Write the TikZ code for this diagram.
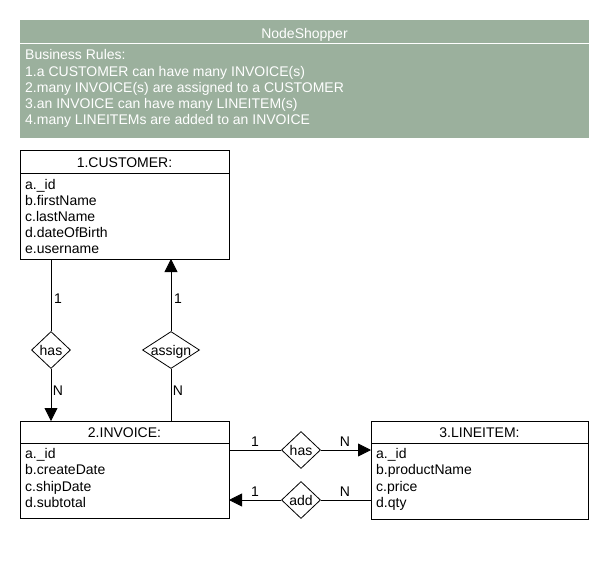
\documentclass[tikz,border=0pt]{standalone}
\usepackage{fontspec}
\setmainfont{Liberation Sans}
\usetikzlibrary{arrows.meta,shapes.geometric}
\definecolor{hdr}{RGB}{155,176,157}
\tikzset{
  x=1pt,y=-1pt,
  txt/.style={font=\fontsize{14}{16}\selectfont,inner sep=0pt,text height=10pt,text depth=0pt},
  wtxt/.style={txt,text=white,anchor=west},
  attr/.style={txt,anchor=west},
  ent/.style={draw=black,line width=0.8pt,fill=white},
  rel/.style={draw=black,line width=0.8pt,fill=white,diamond,aspect=1,inner sep=0pt},
  conn/.style={draw=black,line width=0.8pt},
  arr/.style={conn,-{Triangle[length=13pt,width=13pt]}},
  card/.style={txt}
}
\begin{document}
\begin{tikzpicture}
\useasboundingbox (0,0) rectangle (609,570);
\fill[white] (0,0) rectangle (609,570);
% header
\fill[hdr] (20,20) rectangle (589,138);
\draw[white,line width=0.8pt] (20,43.5) -- (589,43.5);
\node[txt,text=white] (title) at (304.5,33) {NodeShopper};
\node[wtxt] (r0) at (25,54) {Business Rules:};
\node[wtxt] (r1) at (25,71) {1.a CUSTOMER can have many INVOICE(s)};
\node[wtxt] (r2) at (25,87) {2.many INVOICE(s) are assigned to a CUSTOMER};
\node[wtxt] (r3) at (25,103) {3.an INVOICE can have many LINEITEM(s)};
\node[wtxt] (r4) at (25,119) {4.many LINEITEMs are added to an INVOICE};
% customer
\draw[ent] (20,150) rectangle (229,259);
\draw[conn] (20,173) -- (229,173);
\node[txt] (custT) at (124.5,162) {1.CUSTOMER:};
\node[attr] (c1) at (25,184) {a.\_id};
\node[attr] (c2) at (25,200) {b.firstName};
\node[attr] (c3) at (25,216) {c.lastName};
\node[attr] (c4) at (25,232) {d.dateOfBirth};
\node[attr] (c5) at (25,248) {e.username};
% invoice
\draw[ent] (20,421) rectangle (229,518);
\draw[conn] (20,443) -- (229,443);
\node[txt] (invT) at (124.5,432) {2.INVOICE:};
\node[attr] (i1) at (25,453) {a.\_id};
\node[attr] (i2) at (25,469) {b.createDate};
\node[attr] (i3) at (25,486) {c.shipDate};
\node[attr] (i4) at (25,502) {d.subtotal};
% lineitem
\draw[ent] (371,421) rectangle (588,519);
\draw[conn] (371,443) -- (588,443);
\node[txt] (liT) at (479.5,432) {3.LINEITEM:};
\node[attr] (l1) at (376,453) {a.\_id};
\node[attr] (l2) at (376,469) {b.productName};
\node[attr] (l3) at (376,486) {c.price};
\node[attr] (l4) at (376,502) {d.qty};
% anchor coordinates
\coordinate (cB1) at (51,259);
\coordinate (cB2) at (171,259);
\coordinate (iT1) at (51,421);
\coordinate (iT2) at (171,421);
\coordinate (iR1) at (229,450);
\coordinate (iR2) at (229,500);
\coordinate (lL1) at (371,450);
\coordinate (lL2) at (371,500);
% relationships
\node[rel,minimum width=39pt,minimum height=37pt] (has1) at (51,350) {};
\node[txt] at (has1) {has};
\node[rel,minimum width=57pt,minimum height=37pt] (assign) at (171,350) {};
\node[txt] at (assign) {assign};
\node[rel,minimum width=39pt,minimum height=37pt] (has2) at (301,450) {};
\node[txt] at (has2) {has};
\node[rel,minimum width=39pt,minimum height=37pt] (add) at (301,500) {};
\node[txt] at (add) {add};
% connectors
\draw[conn] (cB1) -- (has1.north);
\draw[arr] (has1.south) -- (iT1);
\draw[conn] (iT2) -- (assign.south);
\draw[arr] (assign.north) -- (cB2);
\draw[conn] (iR1) -- (has2.west);
\draw[arr] (has2.east) -- (lL1);
\draw[conn] (lL2) -- (add.east);
\draw[arr] (add.west) -- (iR2);
% cardinalities
\node[card] at (58,298) {1};
\node[card] at (58,390) {N};
\node[card] at (178,298) {1};
\node[card] at (178,390) {N};
\node[card] at (255,441) {1};
\node[card] at (345,441) {N};
\node[card] at (255,491) {1};
\node[card] at (345,491) {N};
\end{tikzpicture}
\end{document}
